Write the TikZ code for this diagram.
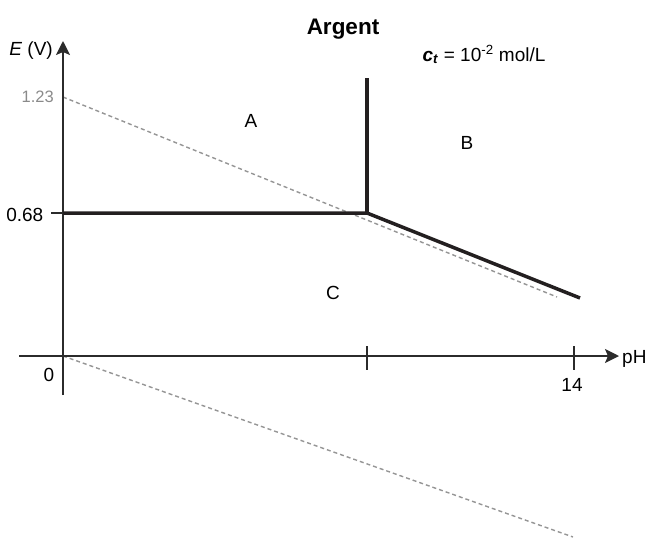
\documentclass[tikz,border=0pt]{standalone}
\usepackage{fontspec}
\setmainfont{Liberation Sans}
\usetikzlibrary{arrows.meta}
\definecolor{axisc}{HTML}{2B2B2B}
\definecolor{thickc}{HTML}{231F20}
\definecolor{dashc}{HTML}{959595}
\definecolor{labc}{HTML}{8A8A8A}
\tikzset{
  axisline/.style={draw=axisc,line width=1.5pt},
  boundary/.style={draw=thickc,line width=3.5pt},
  waterline/.style={draw=dashc,line width=1.4pt,dash pattern=on 4pt off 3pt},
  lab/.style={inner sep=0pt,font=\fontsize{19}{22}\selectfont},
  arrowtip/.style={-{Stealth[length=14pt,width=14pt,inset=3pt]}}
}
\begin{document}
\begin{tikzpicture}[x=1pt,y=-1pt]
\useasboundingbox (0,0) rectangle (646,539);
% coordinates
\coordinate (O) at (63,356);
\coordinate (ybot) at (63,395);
\coordinate (ytop) at (63,41);
\coordinate (xleft) at (19,356);
\coordinate (xright) at (619,356);
\coordinate (t1a) at (367,346);
\coordinate (t1b) at (367,370);
\coordinate (t2a) at (574,346);
\coordinate (t2b) at (574,370);
\coordinate (e68tick) at (51,213);
\coordinate (e68) at (63,213);
\coordinate (P) at (367,213);
\coordinate (Ptop) at (367,78);
\coordinate (Pend) at (580,298);
\coordinate (w1s) at (63,97);
\coordinate (w1e) at (557,297);
\coordinate (w2s) at (63,356);
\coordinate (w2e) at (573,537);
% water lines
\draw[waterline] (w1s) -- (w1e);
\draw[waterline] (w2s) -- (w2e);
% axes
\draw[axisline,arrowtip] (ybot) -- (ytop);
\draw[axisline,arrowtip] (xleft) -- (xright);
\draw[axisline] (t1a) -- (t1b);
\draw[axisline] (t2a) -- (t2b);
\draw[axisline] (e68tick) -- (e68);
% boundaries
\draw[boundary,line cap=butt] (e68) -- (P) -- (Pend);
\draw[boundary] (P) -- (Ptop);
% labels
\node[lab,font=\bfseries\fontsize{22.5}{26}\selectfont,anchor=base] (title) at (343,34) {Argent};
\node[lab,anchor=base] (ct) at (484,61) {\textbf{\textit{c}}\textsubscript{\textbf{\textit{t}}} = 10\textsuperscript{-2} mol/L};
\node[lab,anchor=base east] (Elab) at (53,55) {\textit{E} (V)};
\node[lab,anchor=base east,text=labc,font=\fontsize{16.5}{19}\selectfont] (l123) at (54,102) {1.23};
\node[lab,anchor=base east] (l068) at (43.5,221) {0.68};
\node[lab,anchor=base] (l0) at (49,381) {0};
\node[lab,anchor=base] (l14) at (572,391) {14};
\node[lab,anchor=base west] (pH) at (622,363) {pH};
\node[lab] (A) at (251,121) {A};
\node[lab] (B) at (467,143) {B};
\node[lab] (C) at (333,293) {C};
\end{tikzpicture}
\end{document}
